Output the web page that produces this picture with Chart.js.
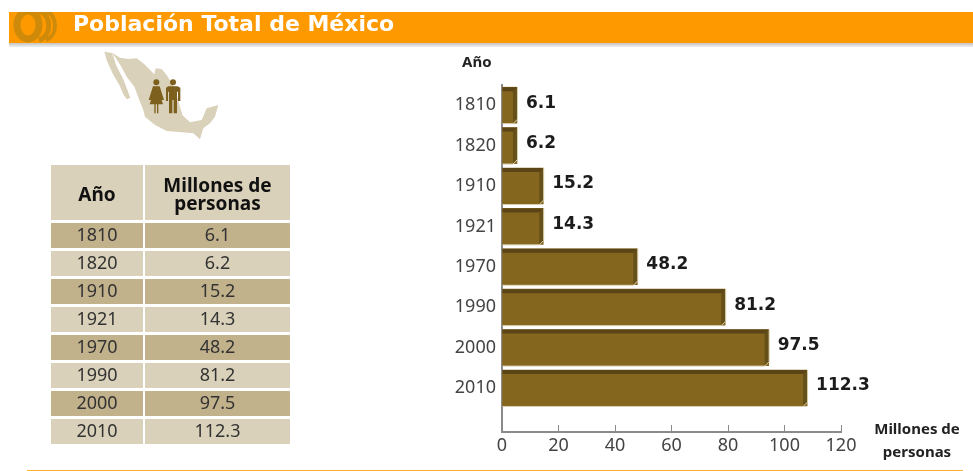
<!DOCTYPE html>
<html lang="es">
<head>
<meta charset="utf-8">
<title>Población Total de México</title>
<script src="https://cdn.jsdelivr.net/npm/chart.js@4"></script>
<style>
  html, body { margin: 0; padding: 0; background: #fff; }
  #page { position: relative; width: 973px; height: 471px; overflow: hidden; filter: blur(0.35px); }
  #page > * { position: absolute; }
  #band { left: 9px; top: 12px; width: 964px; height: 31px; background: #ff9900; }
  #bandShadow { left: 9px; top: 43px; width: 964px; height: 4px; background: linear-gradient(#c4c4c4, #efefef); }
  #logo { left: 9px; top: 12px; }
  h1 { left: 73px; top: 11px; margin: 0; color: #fff; font: bold 22px/26px "DejaVu Sans"; white-space: nowrap; }
  #map { left: 95px; top: 45px; }
  table { left: 49px; top: 162px; border-collapse: separate; border-spacing: 2px 3px; table-layout: fixed; width: 243px;
          font: 18px "Noto Sans"; color: #333; text-align: center; }
  th { height: 52px; padding: 3px 0 0; background: #d9d1b9; color: #111; font: bold 19px/18px "Noto Sans"; }
  td { height: 25px; padding: 0 0 2px; box-sizing: border-box; line-height: 23px; background: #d9d1b9; }
  tr.dark td { background: #c2b28c; }
  .axisTitle { color: #222; font: bold 15px/23px "Noto Sans"; text-align: center; white-space: nowrap; }
  #yTitle { left: 462px; top: 50px; }
  #xTitle { left: 872px; top: 417px; width: 90px; }
  #rule { left: 27px; top: 470px; width: 936px; height: 1px; background: #ffb030; }
  #chartBox { left: 430px; top: 50px; width: 543px; height: 421px; }
</style>
</head>
<body>
<div id="page">
  <div id="band"></div>
  <div id="bandShadow"></div>
  <svg id="logo" width="52" height="31" viewBox="0 0 52 31">
    <g fill="none" stroke="#cf8a0a">
      <ellipse cx="19" cy="13" rx="11" ry="14" stroke-width="7"/>
      <path d="M30 -1 C43 3 43 24 30 28" stroke-width="5"/>
      <path d="M37 -1 C49 3 49 24 37 28" stroke-width="4"/>
    </g>
  </svg>
  <h1>Población Total de México</h1>

  <svg id="map" width="130" height="100" viewBox="0 0 390 300">
    <g fill="#d9d1b9">
      <polygon points="28,20 50,24 55,34 64,62 86,105 106,158 96,163 86,150 72,118 54,88 36,48"/>
      <polygon points="48,22 75,38 100,42 125,40 145,55 160,70 178,88 182,70 200,72 215,90 240,130 252,175 262,210 285,232 320,225 335,190 370,180 360,215 345,235 325,250 315,283 295,265 260,262 215,258 180,240 150,215 145,195 134,168 118,125 95,95 76,60 60,36"/>
    </g>
    <g fill="#7d5f1e">
      <circle cx="184" cy="112" r="9"/>
      <path d="M174 124 H194 L207 165 H199 L194 146 L204 178 H190 V205 H186 V178 H182 V205 H178 V178 H164 L174 146 L169 165 H161 Z"/>
      <circle cx="234" cy="112" r="9"/>
      <path d="M220 124 H248 L256 128 V168 H249 V140 H246 V205 H236 V165 H232 V205 H222 V140 H219 V168 H213 V128 Z"/>
    </g>
  </svg>

  <table>
    <colgroup><col style="width:92px"><col style="width:145px"></colgroup>
    <thead><tr><th>Año</th><th>Millones de<br>personas</th></tr></thead>
    <tbody id="rows"></tbody>
  </table>

  <div id="yTitle" class="axisTitle">Año</div>
  <div id="xTitle" class="axisTitle">Millones de<br>personas</div>
  <div id="chartBox"><canvas id="chart" width="543" height="421"></canvas></div>
  <div id="rule"></div>
</div>

<script>
'use strict';

const years = ['1810', '1820', '1910', '1921', '1970', '1990', '2000', '2010'];
// printed figures (table and bar labels)
const population = ['6.1', '6.2', '15.2', '14.3', '48.2', '81.2', '97.5', '112.3'];
// bar lengths as actually drawn against the axis, they run a bit short of the printed figures
const barLengths = [5.3, 5.3, 14.6, 14.6, 47.9, 79, 94.4, 108];
const xTicks = [0, 20, 40, 60, 80, 100, 120];

const rows = document.getElementById('rows');
years.forEach((year, i) => {
  const tr = document.createElement('tr');
  if (i % 2 === 0) tr.className = 'dark';
  tr.innerHTML = '<td>' + year + '</td><td>' + population[i] + '</td>';
  rows.appendChild(tr);
});

// dark top and right bevel on each bar, then the printed figure
const bevelBars = {
  id: 'bevelBars',
  afterDatasetsDraw(chart) {
    const ctx = chart.ctx;
    chart.getDatasetMeta(0).data.forEach((bar, i) => {
      const left = bar.base;
      const right = bar.x;
      const top = bar.y - bar.height / 2;
      const bottom = bar.y + bar.height / 2;

      ctx.save();
      ctx.fillStyle = '#5b4415';
      ctx.beginPath();
      ctx.moveTo(left, top);
      ctx.lineTo(right, top);
      ctx.lineTo(right - 3, top + 4);
      ctx.lineTo(left, top + 4);
      ctx.closePath();
      ctx.fill();

      ctx.fillStyle = '#66501a';
      ctx.beginPath();
      ctx.moveTo(right, top);
      ctx.lineTo(right, bottom - 4);
      ctx.lineTo(right - 4, bottom);
      ctx.lineTo(right - 4, top + 4);
      ctx.closePath();
      ctx.fill();

      ctx.strokeStyle = '#d8cfae';
      ctx.lineWidth = 1;
      ctx.beginPath();
      ctx.moveTo(left, bottom + 0.5);
      ctx.lineTo(right - 4, bottom + 0.5);
      ctx.lineTo(right + 0.5, bottom - 4);
      ctx.lineTo(right + 0.5, top);
      ctx.stroke();

      ctx.fillStyle = '#1c1c1c';
      ctx.font = 'bold 17px "DejaVu Sans"';
      ctx.textAlign = 'left';
      ctx.textBaseline = 'middle';
      ctx.fillText(population[i], right + 9, bar.y - 2);
      ctx.restore();
    });
  }
};

new Chart(document.getElementById('chart'), {
  type: 'bar',
  data: {
    datasets: [{
      data: years.map((year, i) => ({ x: barLengths[i], y: i })),
      backgroundColor: '#84661f',
      barThickness: 36
    }]
  },
  options: {
    indexAxis: 'y',
    responsive: false,
    animation: false,
    layout: { padding: { top: 35, right: 132, bottom: 0, left: 0 } },
    plugins: { legend: { display: false }, tooltip: { enabled: false } },
    scales: {
      x: {
        type: 'linear',
        min: 0,
        max: 120,
        afterBuildTicks(scale) { scale.ticks = xTicks.map(v => ({ value: v })); },
        afterFit(scale) { scale.height = 39; },
        border: { color: '#8a8a8a', width: 2 },
        grid: { drawOnChartArea: false, color: '#8a8a8a', tickLength: -7 },
        ticks: { padding: 10, color: '#444', maxRotation: 0, font: { family: 'Noto Sans', size: 18 } }
      },
      y: {
        type: 'linear',
        reverse: true,
        offset: false, // bar charts turn this on for the index axis
        min: -0.5,
        max: 8.09,
        afterBuildTicks(scale) { scale.ticks = years.map((y, i) => ({ value: i })); },
        afterFit(scale) { scale.width = 72; },
        border: { color: '#8a8a8a', width: 2 },
        grid: { display: false, drawTicks: false, offset: false },
        ticks: {
          padding: 6,
          color: '#444',
          font: { family: 'Noto Sans', size: 18 },
          callback(value) { return years[value]; }
        }
      }
    }
  },
  plugins: [bevelBars]
});
</script>
</body>
</html>
